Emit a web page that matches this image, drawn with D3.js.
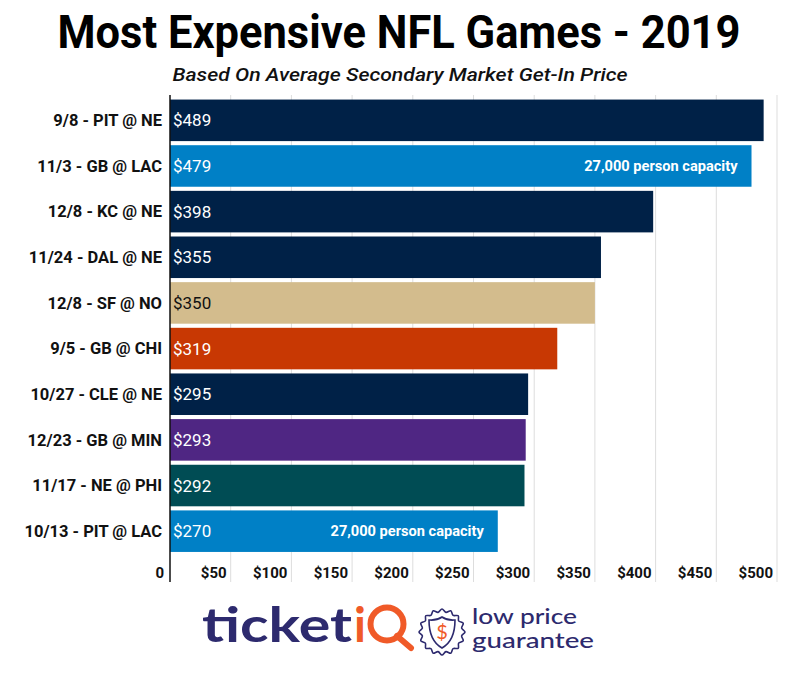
<!DOCTYPE html>
<html><head><meta charset="utf-8">
<script src="https://cdn.jsdelivr.net/npm/d3@7"></script>
<style>body{margin:0;background:#fff}svg{display:block}</style>
</head><body>
<script>
const games = ["9/8 - PIT @ NE","11/3 - GB @ LAC","12/8 - KC @ NE","11/24 - DAL @ NE","12/8 - SF @ NO","9/5 - GB @ CHI","10/27 - CLE @ NE","12/23 - GB @ MIN","11/17 - NE @ PHI","10/13 - PIT @ LAC"];
const prices = [489,479,398,355,350,319,295,293,292,270];
const colors = ["#002147","#0080c6","#002147","#002147","#d3bc8d","#c83803","#002147","#4f2683","#004c54","#0080c6"];
const labelColors = ["#fff","#fff","#fff","#fff","#111","#fff","#fff","#fff","#fff","#fff"];
const notes = ["","27,000 person capacity","","","","","","","","27,000 person capacity"];
const ticks = [0,50,100,150,200,250,300,350,400,450,500];

const W=800,H=684;
const svg=d3.select("body").append("svg").attr("width",W).attr("height",H);
const x=d3.scaleLinear().domain([0,500]).range([170,777]);
const y=d3.scaleBand().domain(games).range([97.5,554]).paddingInner(0.09).paddingOuter(0.045);

svg.append("text").attr("x",399).attr("y",48).attr("text-anchor","middle")
 .attr("font-family","Roboto").attr("font-weight","bold").attr("font-size",47)
 .attr("textLength",683).attr("lengthAdjust","spacingAndGlyphs").attr("fill","#000")
 .text("Most Expensive NFL Games - 2019");
svg.append("text").attr("x",400).attr("y",81).attr("text-anchor","middle")
 .attr("font-family","Roboto").attr("font-style","italic").attr("font-weight",500).attr("font-size",19)
 .attr("textLength",455).attr("lengthAdjust","spacingAndGlyphs").attr("fill","#111")
 .text("Based On Average Secondary Market Get-In Price");

// grid
svg.append("g").selectAll("line").data(ticks.slice(1)).join("line")
 .attr("x1",d=>x(d)).attr("x2",d=>x(d)).attr("y1",95).attr("y2",582)
 .attr("stroke","#dddddd").attr("stroke-width",1);

// bars
svg.append("g").selectAll("rect").data(games).join("rect")
 .attr("x",x(0)).attr("y",d=>y(d)).attr("height",y.bandwidth())
 .attr("width",(d,i)=>x(prices[i])-x(0)).attr("fill",(d,i)=>colors[i]);

// value labels
svg.append("g").selectAll("text").data(games).join("text")
 .attr("x",x(0)+3).attr("y",d=>y(d)+y.bandwidth()/2+6)
 .attr("font-family","Roboto").attr("font-size",17).attr("fill",(d,i)=>labelColors[i])
 .text((d,i)=>"$"+prices[i]);

// notes
svg.append("g").selectAll("text").data(games.filter((d,i)=>notes[i])).join("text")
 .attr("x",d=>x(prices[games.indexOf(d)])-14).attr("y",d=>y(d)+y.bandwidth()/2+5)
 .attr("text-anchor","end").attr("font-family","Roboto").attr("font-weight","bold")
 .attr("font-size",14.6).attr("fill","#fff")
 .text(d=>notes[games.indexOf(d)]);

// y labels
const ya=svg.append("g").attr("transform","translate(170,0)")
 .call(d3.axisLeft(y).tickSize(0).tickPadding(8));
ya.select(".domain").remove();
ya.selectAll("text").attr("font-family","Roboto").attr("font-weight","bold").attr("font-size",16.5).attr("fill","#111").attr("dy","0.35em");

// axis line
svg.append("line").attr("x1",170).attr("x2",170).attr("y1",95).attr("y2",582).attr("stroke","#111").attr("stroke-width",1.5);

// x tick labels
svg.append("g").selectAll("text").data(ticks).join("text")
 .attr("x",d=>d===0?x(0)-6:x(d)-4).attr("y",578).attr("text-anchor","end")
 .attr("font-family","Roboto").attr("font-weight","bold").attr("font-size",15).attr("fill","#111")
 .text(d=>d===0?"0":"$"+d);

// logo
const lg=svg.append("g");
lg.append("text").attr("x",202).attr("y",642).attr("font-family","Lato").attr("font-weight",700).attr("font-size",47)
 .attr("textLength",150).attr("lengthAdjust","spacingAndGlyphs").attr("fill","#2d2a6e").text("ticket");
lg.append("text").attr("x",354).attr("y",642).attr("font-family","Lato").attr("font-weight",700).attr("font-size",47)
 .attr("fill","#f05a28").text("i");
// Q built as circle + tail
lg.append("circle").attr("cx",387).attr("cy",624).attr("r",16.5).attr("fill","none").attr("stroke","#f05a28").attr("stroke-width",6);
lg.append("line").attr("x1",397).attr("y1",636).attr("x2",411).attr("y2",648).attr("stroke","#f05a28").attr("stroke-width",6).attr("stroke-linecap","round");
// shield badge
const cx=442,cy=632;
const n=16, pts=[];
for(let i=0;i<n*2;i++){const a=i*Math.PI/n;const r=i%2?20:23;pts.push([cx+r*Math.cos(a),cy+r*Math.sin(a)]);}
lg.append("path").attr("d",d3.line().curve(d3.curveCardinalClosed)(pts)).attr("fill","none").attr("stroke","#2d2a6e").attr("stroke-width",1.6);
lg.append("path").attr("d",`M${cx},${cy-15} C${cx+6},${cy-11} ${cx+11},${cy-12} ${cx+13},${cy-12} C${cx+13},${cy+2} ${cx+9},${cy+11} ${cx},${cy+16} C${cx-9},${cy+11} ${cx-13},${cy+2} ${cx-13},${cy-12} C${cx-11},${cy-12} ${cx-6},${cy-11} ${cx},${cy-15} Z`)
 .attr("fill","none").attr("stroke","#2d2a6e").attr("stroke-width",1.6);
lg.append("text").attr("x",cx).attr("y",cy+7).attr("text-anchor","middle").attr("font-family","Lato").attr("font-size",20).attr("fill","#f05a28").text("$");
lg.append("text").attr("x",472).attr("y",624).attr("font-family","Lato").attr("font-weight",500).attr("font-size",21)
 .attr("textLength",105).attr("lengthAdjust","spacingAndGlyphs").attr("fill","#2d2a6e").text("low price");
lg.append("text").attr("x",472).attr("y",648).attr("font-family","Lato").attr("font-weight",500).attr("font-size",21)
 .attr("textLength",122).attr("lengthAdjust","spacingAndGlyphs").attr("fill","#2d2a6e").text("guarantee");
</script>
</body></html>
